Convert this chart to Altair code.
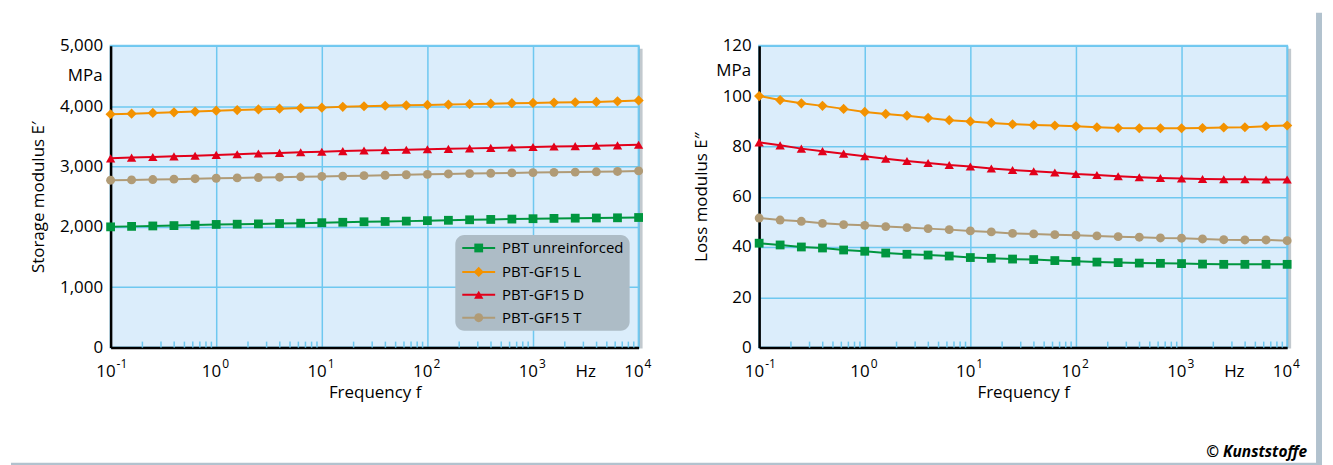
import altair as alt
import pandas as pd

# ---------------- data ----------------
freqs = [0.1, 0.158, 0.251, 0.398, 0.631, 1, 1.58, 2.51, 3.98, 6.31,
         10, 15.8, 25.1, 39.8, 63.1, 100, 158, 251, 398, 631,
         1000, 1580, 2510, 3980, 6310, 10000]

series = ["PBT unreinforced", "PBT-GF15 L", "PBT-GF15 D", "PBT-GF15 T"]

storage_G = [2000, 2008, 2015, 2021, 2030, 2040, 2044, 2049, 2055, 2061, 2069, 2076, 2084,
             2089, 2095, 2103, 2109, 2117, 2123, 2129, 2135, 2140, 2144, 2147, 2150, 2155]
storage_L = [3865, 3875, 3887, 3898, 3910, 3924, 3935, 3946, 3957, 3967, 3975, 3988, 3998,
             4006, 4014, 4020, 4026, 4033, 4041, 4048, 4053, 4058, 4064, 4070, 4080, 4095]
storage_D = [3135, 3147, 3157, 3168, 3179, 3192, 3204, 3215, 3225, 3235, 3245, 3255, 3264,
             3271, 3278, 3285, 3292, 3300, 3308, 3315, 3322, 3330, 3337, 3344, 3350, 3360]
storage_T = [2773, 2778, 2784, 2790, 2798, 2805, 2811, 2817, 2823, 2829, 2835, 2841, 2848,
             2855, 2863, 2870, 2876, 2882, 2888, 2894, 2899, 2903, 2907, 2912, 2918, 2927]

loss_G = [41.5, 40.8, 40.0, 39.6, 38.8, 38.3, 37.6, 37.1, 36.8, 36.4, 35.8, 35.5, 35.2,
          35.0, 34.6, 34.3, 34.0, 33.8, 33.6, 33.5, 33.4, 33.2, 33.1, 33.1, 33.1, 33.1]
loss_L = [100.0, 98.4, 97.1, 96.1, 94.9, 93.7, 92.9, 92.2, 91.3, 90.4, 89.9, 89.3, 88.8,
          88.5, 88.3, 88.0, 87.6, 87.3, 87.2, 87.2, 87.2, 87.3, 87.5, 87.6, 88.0, 88.3]
loss_D = [81.6, 80.4, 79.1, 78.1, 77.1, 76.1, 75.1, 74.2, 73.4, 72.6, 72.0, 71.2, 70.6,
          70.1, 69.6, 69.0, 68.6, 68.1, 67.7, 67.4, 67.2, 67.0, 66.9, 66.9, 66.8, 66.8]
loss_T = [51.5, 50.7, 50.2, 49.4, 48.9, 48.6, 48.1, 47.7, 47.3, 46.9, 46.4, 46.0, 45.4,
          45.2, 44.9, 44.7, 44.4, 44.1, 43.9, 43.6, 43.5, 43.2, 42.9, 42.8, 42.8, 42.5]

decades = [0.1, 1, 10, 100, 1000, 10000]
decade_exps = ["-1", "0", "1", "2", "3", "4"]
minor_ticks = [m * d for d in [0.1, 1, 10, 100, 1000] for m in range(2, 10)]

storage_ticks = [0, 1000, 2000, 3000, 4000, 5000]
loss_ticks = [0, 20, 40, 60, 80, 100, 120]

# ---------------- style ----------------
colors = ["#00963f", "#f39200", "#e2001a", "#b09b76"]
shapes = ["square", "diamond", "triangle-up", "circle"]
sizes = [78, 105, 88, 80]
BG = "#dbedfb"
GRID = "#6ec8f0"
FRAME = "#b2c2ce"
LEGEND_BG = "#adbcc6"
FONT = "Open Sans"
W, H = 530, 303


def panel(values, ydom, yvals, yfmt, ytitle, mpa_value, with_legend, with_credit):
    xscale = alt.Scale(type="log", domain=[0.1, 10000], nice=False)
    yscale = alt.Scale(domain=ydom, nice=False, zero=True)
    xenc = alt.X("freq:Q", scale=xscale,
                 axis=alt.Axis(values=decades, labels=False, ticks=False, grid=True,
                               gridColor=GRID, gridWidth=1.5, domainColor="black",
                               domainWidth=2.5, title="Frequency f", titleFontSize=17,
                               titleFontWeight="normal", titleColor="black",
                               titlePadding=37, titleFont=FONT))
    yenc = alt.Y("value:Q", scale=yscale,
                 axis=alt.Axis(values=yvals, format=yfmt, labelFontSize=17, labelPadding=8,
                               labelColor="black", labelFont=FONT, ticks=False, grid=True,
                               gridColor=GRID, gridWidth=1.5, domainColor="black",
                               domainWidth=2.5, title=ytitle, titleFontSize=17,
                               titleFontWeight="normal", titleColor="black",
                               titlePadding=12, titleFont=FONT))
    layers = []
    minor_df = pd.DataFrame({"freq": minor_ticks})
    layers.append(alt.Chart(minor_df).mark_rule(color=GRID, strokeWidth=1.5).encode(
        x=xenc, y=alt.value(H - 6), y2=alt.value(H)))
    # plot shadow on right edge
    layers.append(alt.Chart(pd.DataFrame({"a": [0]})).mark_rule(
        color="#8f9ca6", strokeWidth=3, opacity=0.55).encode(
        x=alt.value(W + 2.5), y=alt.value(3), y2=alt.value(H + 1)))
    for name, col, shp, sz, vals in zip(series, colors, shapes, sizes, values):
        df = pd.DataFrame({"freq": freqs, "value": vals})
        layers.append(alt.Chart(df).mark_line(color=col, strokeWidth=2).encode(x=xenc, y=yenc))
        layers.append(alt.Chart(df).mark_point(color=col, shape=shp, size=sz, filled=True,
                                               opacity=1).encode(x="freq:Q", y="value:Q"))
    # x tick labels as 10^n
    tdf = pd.DataFrame({"freq": decades, "exp": decade_exps, "base": ["10"] * len(decades)})
    layers.append(alt.Chart(tdf).mark_text(align="right", baseline="middle", dx=5, fontSize=17,
                                           font=FONT, color="black").encode(
        x="freq:Q", y=alt.value(H + 25), text="base:N"))
    layers.append(alt.Chart(tdf).mark_text(align="left", baseline="middle", dx=6, fontSize=12,
                                           font=FONT, color="black").encode(
        x="freq:Q", y=alt.value(H + 16), text="exp:N"))
    hz = pd.DataFrame({"freq": [3162], "t": ["Hz"]})
    layers.append(alt.Chart(hz).mark_text(baseline="middle", fontSize=17, font=FONT,
                                          color="black").encode(
        x="freq:Q", y=alt.value(H + 25), text="t:N"))
    mpa = pd.DataFrame({"value": [mpa_value], "t": ["MPa"]})
    layers.append(alt.Chart(mpa).mark_text(align="right", baseline="middle", fontSize=17,
                                           font=FONT, color="black", dx=-8).encode(
        x=alt.value(0), y="value:Q", text="t:N"))
    if with_legend:
        one = pd.DataFrame({"a": [0]})
        layers.append(alt.Chart(one).mark_rect(fill=LEGEND_BG, cornerRadius=9).encode(
            x=alt.value(346), x2=alt.value(521), y=alt.value(190), y2=alt.value(286)))
        row_y = [203, 227, 250, 273]
        for name, col, shp, sz, yy in zip(series, colors, shapes, sizes, row_y):
            ldf = pd.DataFrame({"label": [name]})
            layers.append(alt.Chart(ldf).mark_rule(color=col, strokeWidth=2).encode(
                x=alt.value(353), x2=alt.value(386), y=alt.value(yy)))
            layers.append(alt.Chart(ldf).mark_point(color=col, shape=shp, size=sz, filled=True,
                                                    opacity=1).encode(
                x=alt.value(369.5), y=alt.value(yy)))
            layers.append(alt.Chart(ldf).mark_text(align="left", baseline="middle", fontSize=15,
                                                   font=FONT, color="black").encode(
                x=alt.value(393), y=alt.value(yy), text="label:N"))
    if with_credit:
        one = pd.DataFrame({"t": ["© Kunststoffe"]})
        layers.append(alt.Chart(one).mark_text(align="right", baseline="middle", fontSize=15.5,
                                               font=FONT, fontStyle="italic", fontWeight="bold",
                                               color="black").encode(
            x=alt.value(W + 20), y=alt.value(H + 105), text="t:N"))
        # figure frame (right and bottom bands)
        layers.append(alt.Chart(pd.DataFrame({"a": [0]})).mark_rule(
            color=FRAME, strokeWidth=6).encode(
            x=alt.value(W + 32), y=alt.value(-33), y2=alt.value(H + 125)))
        layers.append(alt.Chart(pd.DataFrame({"a": [0]})).mark_rule(
            color=FRAME, strokeWidth=4).encode(
            x=alt.value(-751), x2=alt.value(W + 35), y=alt.value(H + 117.5)))
        # invisible anchor fixing the top-left corner of the canvas
        layers.append(alt.Chart(pd.DataFrame({"a": [0]})).mark_rule(
            opacity=0, strokeWidth=1).encode(
            x=alt.value(-752.5), x2=alt.value(-752.5), y=alt.value(-32), y2=alt.value(-30)))
    return alt.layer(*layers).properties(width=W, height=H)


left = panel([storage_G, storage_L, storage_D, storage_T], [0, 5000], storage_ticks, ",d",
             "Storage modulus E\u2032", 4500, True, False)
right = panel([loss_G, loss_L, loss_D, loss_T], [0, 120], loss_ticks, "d",
              "Loss modulus E\u2033", 110, False, True)

chart = alt.hconcat(left, right, spacing=121, bounds="flush").properties(
    padding=0, background="white"
).configure(font=FONT).configure_view(stroke="#7ccbf0", strokeWidth=2, fill=BG)

chart.save("out.html", embed_options={"renderer": "svg", "actions": False})
